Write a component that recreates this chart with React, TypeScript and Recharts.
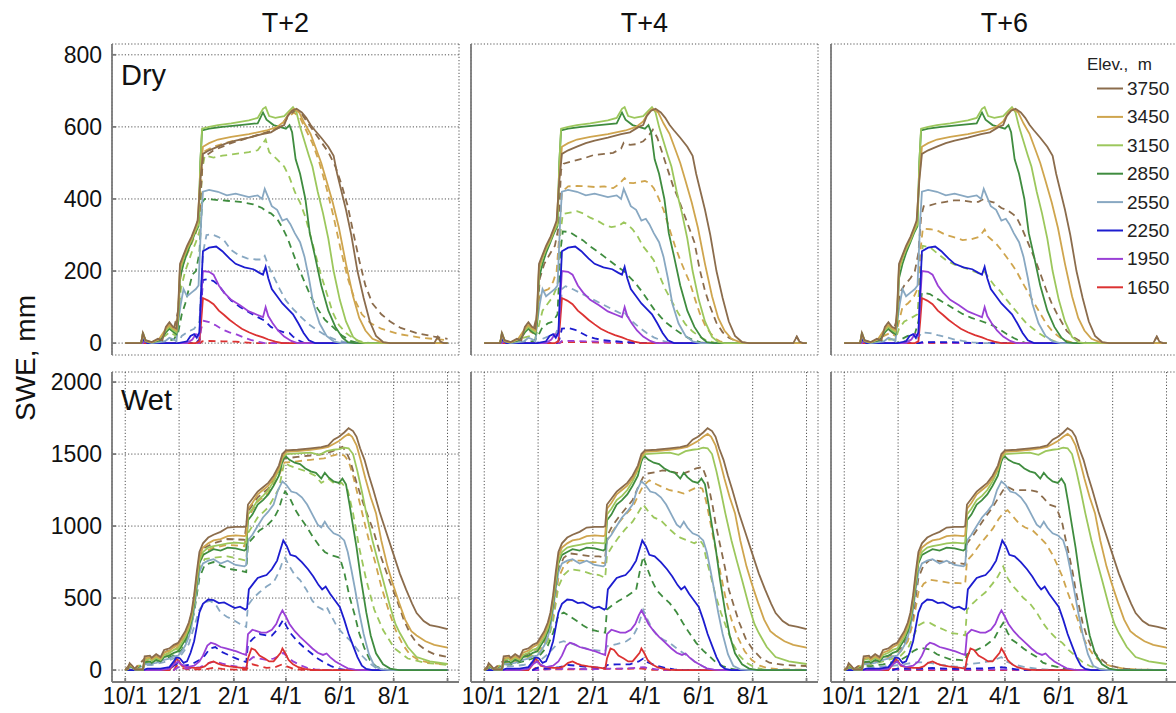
import { CartesianGrid, Line, LineChart, XAxis, YAxis } from 'recharts'

type P = [number, number]

const ELEVS = ['3750', '3450', '3150', '2850', '2550', '2250', '1950', '1650']
const COLORS = ['#8b6c4c', '#cfa54e', '#9cc75c', '#3f8c3f', '#88a8c2', '#1c1ccf', '#9a40d6', '#dc3232']
const SCENARIOS = ['T+2', 'T+4', 'T+6']
const ROWS = ['Dry', 'Wet']

// days since 10/1
const XTICKS = [0, 61, 123, 182, 243, 304, 365]
const XLABELS = ['10/1', '12/1', '2/1', '4/1', '6/1', '8/1', '']
const DRY_TICKS = [0, 200, 400, 600, 800]
const WET_TICKS = [0, 500, 1000, 1500, 2000]

// ---- Dry year, baseline (solid)
const dry3750: P[] = [[0,0],[18,0],[20,28],[23,8],[30,3],[37,12],[42,8],[46,45],[50,58],[54,45],[58,40],[60,100],[62,220],[66,245],[70,270],[75,295],[79,320],[82,340],[85,450],[88,525],[95,535],[105,545],[115,555],[125,562],[140,570],[155,580],[165,585],[175,600],[180,605],[184,630],[189,645],[194,650],[200,640],[205,625],[210,605],[215,590],[222,570],[230,545],[236,520],[240,470],[245,420],[250,370],[256,300],[263,200],[270,125],[277,60],[284,20],[292,3],[300,0],[350,0],[354,18],[357,4],[361,0],[365,0]]
const dry3450: P[] = [[0,0],[18,0],[20,25],[23,6],[30,2],[38,10],[46,40],[50,50],[55,40],[58,35],[60,90],[62,210],[66,240],[70,265],[75,290],[79,315],[82,335],[85,460],[88,545],[95,555],[105,565],[120,572],[140,580],[160,590],[172,600],[180,615],[186,640],[191,650],[197,640],[203,610],[210,580],[216,540],[222,500],[228,450],[235,390],[242,320],[250,220],[258,130],[265,70],[272,35],[280,12],[290,2],[300,0],[365,0]]
const dry3150: P[] = [[0,0],[18,0],[20,30],[23,8],[30,2],[38,10],[46,35],[50,45],[55,35],[58,30],[60,80],[62,200],[66,235],[70,260],[75,285],[79,310],[83,330],[85,500],[87,595],[95,600],[105,605],[120,610],[140,618],[150,625],[156,650],[159,655],[163,630],[170,625],[180,630],[186,645],[190,655],[194,640],[198,600],[203,560],[208,520],[212,490],[218,420],[224,360],[230,290],[236,200],[243,120],[250,60],[258,17],[265,3],[272,0],[365,0]]
const dry2850: P[] = [[0,0],[18,0],[20,25],[23,6],[30,2],[40,8],[46,30],[50,40],[55,30],[58,25],[60,60],[62,180],[66,220],[70,250],[75,280],[79,305],[83,325],[85,500],[87,590],[95,595],[110,600],[130,605],[150,610],[156,640],[160,620],[168,605],[175,600],[182,595],[186,605],[189,585],[193,510],[198,470],[204,400],[209,305],[215,240],[222,160],[230,90],[238,45],[246,15],[252,3],[260,0],[365,0]]
const dry2550: P[] = [[0,0],[18,0],[20,20],[23,5],[30,0],[45,5],[50,15],[55,10],[58,5],[60,60],[63,110],[66,150],[70,130],[75,140],[80,150],[83,160],[86,340],[88,420],[95,425],[105,420],[115,410],[125,415],[140,405],[150,410],[155,400],[158,428],[161,410],[166,380],[172,370],[178,340],[183,345],[187,330],[192,305],[198,280],[203,240],[208,180],[213,110],[220,55],[228,20],[236,5],[245,0],[365,0]]
const dry2250: P[] = [[0,0],[18,0],[21,10],[25,0],[60,0],[70,5],[74,20],[78,25],[81,15],[84,30],[86,150],[88,255],[95,265],[103,268],[110,255],[118,235],[125,220],[135,210],[145,205],[152,195],[156,190],[159,212],[162,180],[166,150],[172,130],[178,110],[184,95],[190,80],[196,55],[202,28],[208,8],[215,0],[365,0]]
const dry1950: P[] = [[0,0],[20,0],[22,6],[26,0],[70,0],[76,10],[80,25],[84,20],[86,120],[88,200],[95,198],[100,190],[106,160],[112,140],[120,120],[130,105],[140,88],[150,78],[156,72],[159,100],[162,75],[167,55],[173,35],[180,18],[188,6],[195,0],[365,0]]
const dry1650: P[] = [[0,0],[80,0],[84,5],[86,60],[88,125],[94,118],[100,108],[106,90],[112,78],[118,65],[125,52],[132,40],[140,30],[148,22],[156,16],[162,10],[170,4],[178,0],[365,0]]

// ---- Dry year, warmed (dashed)
const dryT2_3750: P[] = [[0,0],[18,0],[20,25],[23,6],[30,2],[40,8],[46,40],[50,50],[55,40],[60,90],[63,210],[68,245],[75,285],[80,315],[84,360],[88,515],[100,535],[120,555],[140,570],[160,585],[175,598],[184,630],[192,645],[200,635],[210,600],[220,565],[230,530],[238,490],[245,440],[252,380],[258,310],[265,230],[272,160],[280,110],[290,80],[300,60],[312,42],[330,28],[350,18],[365,12]]
const dryT2_3450: P[] = [[0,0],[18,0],[20,22],[23,5],[30,2],[40,8],[46,35],[50,45],[55,35],[60,80],[63,200],[68,235],[75,275],[80,305],[84,350],[88,530],[100,545],[120,560],[140,570],[160,585],[175,600],[184,625],[191,640],[198,625],[205,590],[212,555],[220,500],[228,430],[236,350],[244,260],[252,180],[260,120],[268,80],[278,55],[290,40],[310,25],[335,15],[365,8]]
const dryT2_3150: P[] = [[0,0],[18,0],[20,20],[23,5],[30,0],[45,20],[50,30],[58,20],[60,60],[63,150],[68,200],[75,250],[80,280],[84,310],[87,480],[90,520],[100,515],[110,520],[125,525],[140,530],[150,535],[156,555],[159,565],[163,530],[172,510],[180,490],[186,460],[192,420],[198,390],[204,350],[209,305],[215,250],[221,195],[228,140],[235,85],[242,50],[250,28],[260,10],[270,2],[280,0],[365,0]]
const dryT2_2850: P[] = [[0,0],[20,0],[22,8],[26,0],[45,5],[55,10],[60,30],[64,80],[68,110],[72,150],[76,190],[80,200],[84,250],[87,390],[90,400],[100,398],[115,395],[130,392],[145,385],[155,375],[160,365],[165,360],[172,345],[178,320],[184,290],[190,250],[196,210],[203,170],[210,130],[218,95],[226,65],[235,45],[245,22],[255,6],[265,0],[365,0]]
const dryT2_2550: P[] = [[0,0],[20,0],[22,5],[26,0],[60,0],[64,20],[70,30],[78,40],[84,60],[88,250],[92,300],[98,302],[105,295],[112,285],[120,258],[128,245],[138,235],[148,232],[155,232],[158,242],[162,215],[168,185],[175,150],[182,118],[190,95],[198,75],[208,52],[218,35],[228,20],[240,8],[250,2],[260,0],[365,0]]
const dryT2_2250: P[] = [[0,0],[80,0],[84,10],[86,100],[88,175],[94,178],[100,172],[106,160],[112,140],[120,118],[130,100],[140,86],[150,72],[158,62],[165,45],[172,36],[180,30],[186,28],[190,18],[196,8],[203,0],[365,0]]
const dryT2_1950: P[] = [[0,0],[84,0],[86,40],[89,62],[95,58],[102,50],[110,38],[118,30],[126,24],[134,16],[142,9],[150,4],[158,0],[365,0]]
const dryT2_1650: P[] = [[0,0],[85,0],[87,5],[95,6],[110,5],[125,4],[135,2],[145,0],[365,0]]

const dryT4_3750: P[] = [[0,0],[18,0],[20,22],[23,5],[30,2],[40,8],[46,35],[50,40],[55,30],[60,80],[63,180],[68,220],[75,250],[80,270],[84,320],[87,480],[90,498],[100,505],[112,512],[124,522],[136,525],[146,528],[155,540],[158,556],[165,550],[172,552],[180,560],[186,575],[191,592],[196,570],[202,525],[208,480],[214,435],[220,400],[226,360],[232,320],[238,280],[244,205],[250,145],[256,100],[263,56],[270,30],[277,15],[285,6],[292,2],[300,0],[350,0],[354,18],[357,4],[361,0],[365,0]]
const dryT4_3450: P[] = [[0,0],[18,0],[20,20],[23,5],[30,2],[40,6],[46,30],[50,35],[55,28],[60,70],[63,130],[68,145],[73,150],[78,170],[82,200],[85,300],[88,420],[95,435],[105,436],[116,435],[126,433],[136,435],[146,430],[152,440],[156,450],[159,458],[163,445],[169,444],[176,447],[182,450],[187,445],[192,430],[197,405],[203,370],[210,315],[216,270],[222,230],[228,195],[233,167],[239,120],[244,83],[250,50],[256,28],[262,12],[268,4],[275,0],[365,0]]
const dryT4_3150: P[] = [[0,0],[18,0],[20,18],[23,4],[30,0],[45,15],[52,20],[58,15],[62,50],[66,90],[72,110],[78,130],[83,160],[86,300],[89,358],[97,362],[105,366],[112,360],[120,348],[128,340],[136,328],[144,322],[152,325],[158,335],[162,330],[168,316],[174,295],[180,268],[186,250],[192,230],[198,190],[205,150],[212,118],[220,82],[228,52],[236,32],[244,18],[252,7],[260,2],[268,0],[365,0]]
const dryT4_2850: P[] = [[0,0],[20,0],[22,6],[26,0],[55,5],[60,15],[65,40],[72,55],[78,60],[83,80],[86,250],[89,310],[97,308],[105,295],[112,285],[120,268],[128,255],[136,240],[144,225],[152,210],[158,200],[162,190],[170,170],[178,145],[185,120],[192,95],[200,72],[207,55],[215,40],[222,28],[230,16],[237,8],[245,2],[252,0],[365,0]]
const dryT4_2550: P[] = [[0,0],[60,0],[64,10],[72,18],[80,20],[85,50],[88,150],[92,158],[100,150],[108,140],[116,130],[124,120],[132,110],[140,100],[148,90],[155,82],[158,88],[162,75],[169,57],[176,43],[184,28],[192,16],[200,8],[208,2],[215,0],[365,0]]
const dryT4_2250: P[] = [[0,0],[82,0],[85,10],[88,40],[95,42],[103,37],[110,28],[117,19],[125,13],[133,9],[145,6],[160,3],[175,0],[365,0]]
const dryT4_1950: P[] = [[0,0],[85,0],[88,6],[100,6],[130,4],[160,2],[180,0],[365,0]]
const dryT4_1650: P[] = [[0,0],[85,0],[88,3],[110,3],[140,1],[160,0],[365,0]]

const dryT6_3750: P[] = [[0,0],[18,0],[20,20],[23,5],[30,2],[40,6],[46,30],[50,38],[55,28],[60,70],[63,140],[68,160],[75,180],[80,200],[84,250],[87,350],[90,380],[97,382],[105,388],[115,392],[124,396],[134,396],[144,392],[152,392],[158,400],[162,395],[170,390],[178,375],[185,368],[190,360],[195,350],[201,320],[207,285],[213,250],[218,220],[224,180],[229,146],[235,110],[241,81],[247,55],[252,34],[260,16],[267,6],[275,0],[350,0],[354,18],[357,4],[361,0],[365,0]]
const dryT6_3450: P[] = [[0,0],[18,0],[20,18],[23,4],[30,0],[45,20],[52,28],[58,20],[62,60],[66,100],[72,110],[78,125],[83,150],[86,250],[89,318],[97,316],[105,313],[115,300],[124,294],[134,286],[144,288],[152,294],[156,305],[159,315],[163,295],[172,276],[178,258],[184,238],[190,218],[195,200],[201,172],[207,146],[213,120],[218,99],[224,74],[229,53],[236,32],[244,16],[252,6],[260,0],[365,0]]
const dryT6_3150: P[] = [[0,0],[20,0],[22,10],[26,0],[50,10],[58,10],[62,40],[68,60],[76,70],[83,80],[86,200],[89,270],[97,266],[106,248],[116,229],[125,218],[134,211],[144,202],[154,192],[159,198],[164,180],[170,160],[176,146],[184,120],[191,99],[199,76],[207,53],[215,38],[222,25],[230,13],[237,6],[245,0],[365,0]]
const dryT6_2850: P[] = [[0,0],[60,0],[64,10],[72,20],[80,25],[84,60],[88,140],[97,136],[106,122],[116,108],[125,94],[134,81],[144,70],[154,62],[162,55],[169,48],[176,38],[184,25],[192,14],[199,6],[206,0],[365,0]]
const dryT6_2550: P[] = [[0,0],[60,0],[65,5],[80,10],[85,20],[88,30],[97,28],[106,22],[116,16],[125,10],[134,6],[145,2],[155,0],[365,0]]
const dryT6_2250: P[] = [[0,0],[85,0],[88,3],[120,3],[150,0],[365,0]]
const dryT6_1950: P[] = [[0,0],[88,0],[100,2],[130,0],[365,0]]
const dryT6_1650: P[] = [[0,0],[365,0]]

// ---- Wet year, baseline (solid)
const wet3750: P[] = [[0,0],[3,10],[5,48],[8,30],[11,5],[20,5],[22,95],[28,100],[30,85],[35,110],[40,90],[44,140],[50,150],[55,175],[60,190],[64,230],[68,270],[72,330],[75,400],[78,520],[81,680],[84,820],[88,880],[94,920],[100,940],[108,960],[116,990],[125,995],[135,995],[137,1000],[139,1150],[144,1190],[150,1240],[156,1270],[162,1300],[168,1350],[174,1420],[178,1500],[182,1525],[195,1530],[210,1540],[222,1548],[230,1560],[236,1600],[242,1620],[248,1650],[253,1680],[258,1660],[262,1620],[266,1540],[271,1460],[276,1350],[281,1250],[288,1100],[296,950],[304,800],[311,670],[318,560],[325,460],[330,396],[338,340],[345,312],[355,300],[365,285]]
const wet3450: P[] = [[0,0],[3,8],[5,40],[8,25],[11,5],[20,5],[22,80],[28,90],[30,75],[35,95],[40,80],[44,120],[50,135],[55,160],[60,175],[64,210],[68,250],[72,310],[75,380],[78,500],[81,650],[84,790],[88,850],[94,880],[100,900],[108,910],[116,930],[125,935],[135,930],[137,935],[139,1120],[144,1160],[150,1220],[156,1250],[162,1280],[168,1330],[174,1400],[178,1480],[182,1515],[195,1520],[210,1530],[222,1540],[230,1550],[236,1570],[242,1590],[248,1620],[253,1640],[257,1620],[262,1560],[267,1450],[272,1330],[278,1200],[284,1090],[290,900],[297,720],[303,600],[310,470],[317,350],[324,270],[330,240],[340,200],[350,175],[365,155]]
const wet3150: P[] = [[0,0],[3,8],[5,38],[8,22],[11,5],[20,3],[22,70],[28,80],[30,65],[35,85],[40,70],[44,105],[50,120],[55,140],[60,150],[64,190],[68,230],[72,290],[75,360],[78,480],[81,620],[84,760],[88,820],[94,850],[100,860],[108,870],[116,880],[125,885],[135,880],[137,885],[139,1080],[144,1120],[150,1180],[156,1210],[162,1250],[168,1310],[174,1390],[178,1470],[182,1500],[195,1505],[210,1510],[220,1495],[228,1520],[236,1530],[242,1535],[248,1545],[253,1540],[258,1500],[263,1380],[268,1240],[273,1090],[280,900],[286,760],[292,625],[300,440],[306,320],[311,257],[320,160],[330,90],[345,60],[365,42]]
const wet2850: P[] = [[0,0],[3,6],[5,30],[8,18],[11,4],[20,2],[22,55],[28,60],[30,50],[35,70],[40,60],[44,90],[50,100],[55,120],[60,130],[64,170],[68,210],[72,270],[75,340],[78,460],[81,600],[84,740],[88,800],[94,820],[100,840],[108,830],[116,850],[125,845],[135,830],[137,840],[139,1040],[144,1080],[150,1150],[156,1180],[162,1220],[168,1280],[174,1350],[178,1450],[181,1490],[186,1460],[192,1440],[198,1430],[204,1400],[210,1380],[216,1370],[222,1330],[226,1370],[230,1340],[236,1310],[242,1300],[246,1330],[250,1290],[254,1150],[258,1000],[262,850],[267,630],[273,400],[278,240],[284,116],[292,40],[300,10],[310,0],[365,0]]
const wet2550: P[] = [[0,0],[3,5],[5,25],[8,15],[11,3],[20,2],[22,40],[28,45],[35,50],[44,70],[50,80],[55,95],[60,100],[64,130],[68,170],[72,230],[75,300],[78,420],[81,560],[84,680],[88,740],[94,760],[100,770],[108,740],[116,760],[125,730],[135,720],[137,730],[139,900],[144,940],[150,1000],[156,1060],[162,1100],[168,1150],[173,1250],[178,1310],[182,1290],[188,1240],[194,1230],[200,1200],[206,1150],[212,1080],[218,1010],[222,990],[226,1030],[230,990],[236,950],[242,935],[248,900],[252,820],[256,700],[260,570],[265,400],[270,250],[276,110],[282,30],[290,5],[300,0],[365,0]]
const wet2250: P[] = [[0,0],[20,0],[25,10],[40,10],[50,20],[55,60],[58,90],[62,80],[66,50],[70,60],[74,120],[78,200],[81,300],[84,400],[88,460],[94,490],[100,485],[106,465],[112,470],[118,450],[124,430],[130,440],[136,420],[138,430],[140,560],[145,600],[150,640],[155,650],[160,660],[166,700],[172,760],[176,840],[179,900],[183,860],[187,800],[193,790],[200,750],[207,700],[213,650],[219,590],[223,560],[227,580],[232,530],[238,480],[243,438],[248,350],[253,250],[258,170],[263,90],[268,30],[273,8],[280,0],[365,0]]
const wet1950: P[] = [[0,0],[40,0],[50,10],[55,40],[60,60],[63,40],[70,20],[78,30],[84,60],[88,100],[93,170],[97,190],[102,180],[108,160],[114,150],[120,140],[126,130],[132,115],[137,105],[139,250],[144,280],[149,270],[154,260],[160,260],[166,280],[171,320],[175,380],[178,415],[182,370],[186,320],[192,270],[198,230],[205,190],[212,150],[218,120],[224,105],[228,115],[232,90],[238,60],[245,35],[252,12],[260,3],[268,0],[365,0]]
const wet1650: P[] = [[0,0],[50,0],[55,40],[58,80],[61,60],[64,30],[70,20],[78,15],[85,15],[90,25],[95,50],[100,60],[105,45],[110,35],[118,25],[125,20],[132,15],[137,10],[139,80],[143,150],[147,140],[152,100],[158,80],[163,60],[168,60],[172,90],[176,120],[178,150],[181,120],[185,70],[190,40],[196,20],[203,8],[210,2],[220,0],[365,0]]

// ---- Wet year, warmed (dashed)
const wetT2_3750: P[] = [[0,0],[5,40],[10,5],[22,80],[30,75],[44,120],[55,160],[64,200],[72,300],[78,480],[84,780],[90,850],[100,880],[116,910],[135,905],[139,1100],[150,1200],[162,1260],[174,1380],[180,1470],[195,1480],[210,1490],[225,1500],[235,1520],[242,1540],[246,1550],[250,1520],[255,1450],[262,1300],[270,1150],[276,1050],[281,970],[290,780],[299,625],[308,480],[316,340],[323,250],[330,188],[340,140],[350,110],[365,90]]
const wetT2_3450: P[] = [[0,0],[5,35],[10,5],[22,70],[30,65],[44,100],[55,140],[64,180],[72,280],[78,450],[84,740],[90,820],[100,850],[116,870],[135,860],[139,1060],[150,1170],[162,1230],[174,1350],[180,1440],[195,1450],[210,1460],[225,1470],[235,1490],[242,1500],[248,1490],[253,1450],[258,1350],[264,1200],[270,1050],[276,900],[283,750],[290,580],[298,420],[306,280],[314,180],[322,110],[332,70],[345,50],[365,40]]
const wetT2_3150: P[] = [[0,0],[5,30],[10,4],[22,60],[30,55],[44,90],[55,120],[64,160],[72,260],[78,420],[84,700],[90,770],[100,780],[116,790],[130,770],[137,760],[139,950],[150,1060],[162,1130],[174,1260],[180,1440],[186,1420],[195,1400],[205,1380],[215,1350],[222,1300],[230,1330],[238,1290],[245,1300],[252,1250],[258,1090],[265,850],[273,625],[282,420],[292,278],[305,150],[320,80],[340,50],[365,35]]
const wetT2_2850: P[] = [[0,0],[5,25],[10,3],[22,50],[30,45],[44,75],[55,100],[64,140],[72,240],[78,400],[84,640],[90,730],[100,750],[110,720],[120,700],[130,690],[137,680],[139,880],[145,920],[152,970],[160,1000],[168,1050],[174,1120],[178,1200],[181,1240],[186,1200],[192,1120],[198,1060],[205,1000],[212,930],[220,860],[226,820],[232,800],[238,790],[243,780],[248,680],[254,510],[260,380],[265,255],[271,150],[277,70],[284,25],[292,5],[300,0],[365,0]]
const wetT2_2550: P[] = [[0,0],[5,20],[10,2],[22,35],[30,35],[44,55],[55,80],[64,110],[72,180],[78,300],[84,420],[90,470],[96,480],[102,460],[108,400],[115,370],[122,350],[130,320],[137,300],[139,450],[145,500],[152,540],[160,580],[168,610],[174,680],[178,750],[181,780],[186,720],[192,660],[198,625],[205,560],[212,480],[218,440],[224,420],[228,440],[233,380],[240,300],[247,250],[254,210],[262,150],[269,94],[276,50],[284,15],[292,3],[300,0],[365,0]]
const wetT2_2250: P[] = [[0,0],[50,0],[55,30],[60,50],[66,30],[75,40],[84,70],[90,100],[96,150],[102,160],[108,130],[115,110],[122,90],[130,70],[137,55],[139,180],[145,220],[152,250],[160,240],[166,240],[172,280],[176,320],[179,350],[183,300],[188,250],[195,200],[202,160],[210,120],[218,80],[226,50],[234,25],[242,8],[250,0],[365,0]]
const wetT2_1950: P[] = [[0,0],[55,0],[60,20],[70,10],[85,20],[95,50],[102,60],[110,45],[120,30],[130,20],[137,15],[139,60],[145,90],[152,80],[160,70],[168,80],[175,100],[179,120],[184,90],[190,60],[198,35],[206,15],[215,5],[225,0],[365,0]]
const wetT2_1650: P[] = [[0,0],[55,0],[58,30],[62,20],[70,5],[90,5],[100,15],[110,8],[125,3],[137,2],[139,20],[144,40],[150,30],[160,15],[170,20],[178,40],[183,25],[190,10],[200,2],[210,0],[365,0]]

const wetT4_3750: P[] = [[0,0],[5,35],[10,4],[22,65],[30,60],[44,95],[55,130],[64,170],[72,260],[78,420],[84,700],[90,780],[97,810],[110,800],[120,790],[130,790],[137,780],[139,930],[145,1000],[152,1060],[160,1120],[168,1180],[175,1280],[180,1340],[185,1365],[195,1375],[202,1387],[210,1380],[218,1370],[225,1364],[232,1380],[240,1400],[247,1410],[252,1330],[255,1250],[259,1130],[262,1018],[266,900],[270,788],[274,670],[277,560],[283,440],[289,327],[296,220],[304,143],[313,85],[323,51],[340,35],[365,28]]
const wetT4_3450: P[] = [[0,0],[5,30],[10,3],[22,55],[30,50],[44,85],[55,110],[64,150],[72,230],[78,380],[84,640],[90,720],[97,760],[110,760],[120,750],[130,750],[137,740],[139,900],[145,960],[152,1020],[160,1080],[168,1130],[175,1220],[180,1280],[187,1318],[195,1290],[202,1270],[210,1249],[218,1240],[226,1226],[234,1250],[242,1272],[247,1260],[251,1180],[255,1060],[259,930],[264,780],[269,630],[274,480],[280,350],[287,230],[295,130],[303,70],[312,30],[322,12],[335,5],[365,2]]
const wetT4_3150: P[] = [[0,0],[5,25],[10,3],[22,50],[30,45],[44,75],[55,100],[64,130],[72,200],[78,340],[84,580],[90,660],[97,700],[110,690],[120,670],[130,660],[137,640],[139,800],[145,860],[152,920],[160,980],[168,1030],[175,1100],[180,1150],[186,1100],[192,1060],[200,1040],[208,990],[215,950],[222,920],[230,900],[238,880],[244,903],[248,870],[252,760],[257,640],[262,520],[268,400],[274,300],[281,190],[289,100],[297,50],[306,20],[315,6],[325,0],[365,0]]
const wetT4_2850: P[] = [[0,0],[5,20],[10,2],[22,40],[30,38],[44,60],[55,80],[64,110],[72,170],[78,260],[84,380],[90,400],[97,373],[105,340],[112,310],[120,281],[128,270],[137,260],[139,420],[145,450],[152,480],[161,511],[168,540],[172,557],[176,680],[180,788],[185,700],[190,620],[195,557],[202,510],[210,465],[218,400],[225,327],[232,260],[240,189],[248,135],[255,97],[262,55],[270,28],[278,10],[288,0],[365,0]]
const wetT4_2550: P[] = [[0,0],[5,15],[10,2],[22,25],[30,25],[44,35],[55,50],[64,70],[72,110],[78,150],[84,190],[90,200],[97,189],[105,170],[112,155],[120,143],[130,135],[137,130],[139,166],[150,180],[161,200],[168,230],[174,300],[178,380],[180,419],[185,350],[190,290],[196,240],[203,210],[210,189],[218,150],[225,120],[233,85],[240,51],[248,25],[255,5],[262,0],[365,0]]
const wetT4_2250: P[] = [[0,0],[55,0],[60,15],[70,10],[85,20],[95,35],[105,30],[120,20],[137,15],[139,35],[150,40],[165,40],[175,60],[180,80],[185,55],[195,30],[205,15],[215,5],[225,0],[365,0]]
const wetT4_1950: P[] = [[0,0],[60,0],[70,5],[95,10],[120,5],[139,10],[160,10],[180,20],[195,5],[210,0],[365,0]]
const wetT4_1650: P[] = [[0,0],[55,0],[58,15],[64,5],[100,5],[139,8],[178,10],[190,2],[200,0],[365,0]]

const wetT6_3750: P[] = [[0,0],[5,30],[10,3],[22,55],[30,50],[44,85],[55,110],[64,150],[72,230],[78,380],[84,640],[90,730],[97,765],[110,755],[120,745],[130,742],[137,735],[139,880],[145,926],[152,990],[160,1064],[168,1130],[175,1200],[180,1250],[185,1272],[192,1250],[200,1249],[210,1250],[218,1240],[225,1200],[232,1150],[240,1133],[247,1018],[251,900],[255,788],[259,670],[262,558],[266,440],[270,327],[275,230],[281,143],[288,90],[296,51],[305,25],[315,10],[330,4],[365,0]]
const wetT6_3450: P[] = [[0,0],[5,25],[10,3],[22,48],[30,45],[44,75],[55,95],[64,130],[72,200],[78,330],[84,540],[90,600],[97,627],[110,615],[120,605],[130,604],[137,600],[139,760],[145,800],[152,860],[160,920],[168,980],[175,1050],[180,1090],[185,1110],[192,1060],[198,1018],[205,990],[213,972],[220,930],[228,880],[236,800],[242,720],[247,650],[253,540],[259,442],[265,340],[270,235],[276,160],[283,97],[292,50],[302,28],[315,12],[330,4],[365,0]]
const wetT6_3150: P[] = [[0,0],[5,20],[10,2],[22,40],[30,38],[44,60],[55,80],[64,100],[72,150],[78,230],[84,310],[90,330],[97,327],[105,300],[113,280],[120,258],[130,250],[137,240],[139,420],[145,460],[152,500],[160,540],[168,600],[174,650],[180,719],[185,640],[190,590],[195,557],[203,500],[210,465],[218,400],[225,327],[232,270],[240,220],[247,189],[254,140],[262,97],[270,55],[278,28],[288,10],[300,0],[365,0]]
const wetT6_2850: P[] = [[0,0],[5,15],[10,2],[22,30],[30,28],[44,40],[55,55],[64,70],[72,100],[78,130],[84,150],[90,150],[97,143],[105,110],[113,90],[120,74],[130,70],[137,65],[139,110],[150,140],[160,170],[170,220],[176,290],[180,327],[185,260],[190,210],[195,189],[203,150],[210,120],[218,90],[225,51],[235,30],[245,16],[255,5],[265,0],[365,0]]
const wetT6_2550: P[] = [[0,0],[5,10],[10,1],[22,20],[30,18],[44,25],[55,30],[64,35],[72,45],[84,55],[97,50],[110,35],[125,25],[137,20],[139,40],[155,50],[170,70],[178,90],[183,60],[192,40],[205,20],[220,8],[235,0],[365,0]]
const wetT6_2250: P[] = [[0,0],[55,0],[60,10],[80,10],[100,15],[120,8],[139,10],[160,12],[178,20],[195,5],[210,0],[365,0]]
const wetT6_1950: P[] = [[0,0],[100,5],[140,3],[180,5],[200,0],[365,0]]
const wetT6_1650: P[] = [[0,0],[58,8],[65,0],[365,0]]

const DRY_BASE = [dry3750, dry3450, dry3150, dry2850, dry2550, dry2250, dry1950, dry1650]
const WET_BASE = [wet3750, wet3450, wet3150, wet2850, wet2550, wet2250, wet1950, wet1650]
const DRY_WARM = [
  [dryT2_3750, dryT2_3450, dryT2_3150, dryT2_2850, dryT2_2550, dryT2_2250, dryT2_1950, dryT2_1650],
  [dryT4_3750, dryT4_3450, dryT4_3150, dryT4_2850, dryT4_2550, dryT4_2250, dryT4_1950, dryT4_1650],
  [dryT6_3750, dryT6_3450, dryT6_3150, dryT6_2850, dryT6_2550, dryT6_2250, dryT6_1950, dryT6_1650],
]
const WET_WARM = [
  [wetT2_3750, wetT2_3450, wetT2_3150, wetT2_2850, wetT2_2550, wetT2_2250, wetT2_1950, wetT2_1650],
  [wetT4_3750, wetT4_3450, wetT4_3150, wetT4_2850, wetT4_2550, wetT4_2250, wetT4_1950, wetT4_1650],
  [wetT6_3750, wetT6_3450, wetT6_3150, wetT6_2850, wetT6_2550, wetT6_2250, wetT6_1950, wetT6_1650],
]

const FONT = '"Liberation Sans", Arial, sans-serif'
const PLOT_W = 347
const COL_X = [112, 471, 831]
const ROW_Y = [44, 372]
const ROW_H = [311, 310]
const Y_W = 70
const X_H = 36
const PAD = 2
const X_DOMAIN: [number, number] = [-15, 378]
const Y_DOMAINS: [number, number][] = [[-33, 830], [-83, 2070]]

const frame = { stroke: '#7a7a7a', strokeWidth: 1.8 }
const tickText = { fill: '#111', fontSize: 23, fontFamily: FONT }

const toPts = (a: P[]) => a.map(([d, v]) => ({ d, v }))

function Panel({ row, col }: { row: number; col: number }) {
  const showY = col === 0
  const showX = row === 1
  const xh = showX ? X_H : 0
  const base = row === 0 ? DRY_BASE : WET_BASE
  const warm = (row === 0 ? DRY_WARM : WET_WARM)[col]
  const order = [7, 6, 5, 4, 3, 2, 1, 0]
  return (
    <div style={{ position: 'absolute', left: COL_X[col] - Y_W - PAD, top: ROW_Y[row] - PAD }}>
      <LineChart
        width={PLOT_W + Y_W + 2 * PAD}
        height={ROW_H[row] + xh + 2 * PAD}
        margin={{ top: PAD, right: PAD, bottom: PAD, left: PAD }}
      >
        <CartesianGrid stroke="#555" strokeDasharray="1.2 2" />
        <XAxis
          dataKey="d"
          type="number"
          domain={X_DOMAIN}
          ticks={XTICKS}
          interval={0}
          height={xh}
          tickSize={-4}
          tickMargin={10}
          axisLine={frame}
          tickLine={frame}
          tick={showX ? tickText : false}
          tickFormatter={(v: number) => XLABELS[XTICKS.indexOf(v)] ?? ''}
        />
        <XAxis
          xAxisId="top"
          orientation="top"
          dataKey="d"
          type="number"
          domain={X_DOMAIN}
          ticks={XTICKS}
          interval={0}
          height={0}
          tickSize={-4}
          axisLine={frame}
          tickLine={frame}
          tick={false}
        />
        <YAxis
          type="number"
          domain={Y_DOMAINS[row]}
          ticks={row === 0 ? DRY_TICKS : WET_TICKS}
          interval={0}
          width={Y_W}
          tickSize={-4}
          tickMargin={14}
          axisLine={frame}
          tickLine={frame}
          tick={showY ? tickText : false}
        />
        <YAxis
          yAxisId="right"
          orientation="right"
          type="number"
          domain={Y_DOMAINS[row]}
          ticks={row === 0 ? DRY_TICKS : WET_TICKS}
          interval={0}
          width={0}
          tickSize={-4}
          axisLine={frame}
          tickLine={frame}
          tick={false}
        />
        {order.map((i) => (
          <Line
            key={'w' + i}
            data={toPts(warm[i])}
            dataKey="v"
            type="linear"
            stroke={COLORS[i]}
            strokeWidth={1.8}
            strokeDasharray="7 5"
            dot={false}
            isAnimationActive={false}
          />
        ))}
        {order.map((i) => (
          <Line
            key={'b' + i}
            data={toPts(base[i])}
            dataKey="v"
            type="linear"
            stroke={COLORS[i]}
            strokeWidth={1.8}
            dot={false}
            isAnimationActive={false}
          />
        ))}
      </LineChart>
    </div>
  )
}

export default function App() {
  return (
    <div
      style={{
        position: 'fixed',
        left: 0,
        top: 0,
        width: 1176,
        height: 713,
        overflow: 'hidden',
        background: '#fff',
        fontFamily: FONT,
      }}
    >
      {[0, 1].map((r) => [0, 1, 2].map((c) => <Panel key={`${r}-${c}`} row={r} col={c} />))}
      <svg
        width={1176}
        height={713}
        style={{ position: 'absolute', left: 0, top: 0, pointerEvents: 'none' }}
        fontFamily={FONT}
      >
        {SCENARIOS.map((s, i) => (
          <text key={s} x={COL_X[i] + PLOT_W / 2} y={32} textAnchor="middle" fontSize={27} fill="#111">
            {s}
          </text>
        ))}
        <text x={35} y={358} transform="rotate(-90 35 358)" textAnchor="middle" fontSize={28} fill="#111">
          SWE, mm
        </text>
        <text x={121} y={85} fontSize={29} fill="#111">{ROWS[0]}</text>
        <text x={121} y={410} fontSize={29} fill="#111">{ROWS[1]}</text>
        <text x={1087} y={70} fontSize={17} fill="#222" style={{ whiteSpace: 'pre' }}>
          {'Elev.,  m'}
        </text>
        {ELEVS.map((e, i) => (
          <g key={e}>
            <line x1={1097} x2={1123} y1={88.5 + i * 28.4} y2={88.5 + i * 28.4} stroke={COLORS[i]} strokeWidth={2} />
            <text x={1127} y={95 + i * 28.4} fontSize={19} fill="#222">
              {e}
            </text>
          </g>
        ))}
      </svg>
    </div>
  )
}
